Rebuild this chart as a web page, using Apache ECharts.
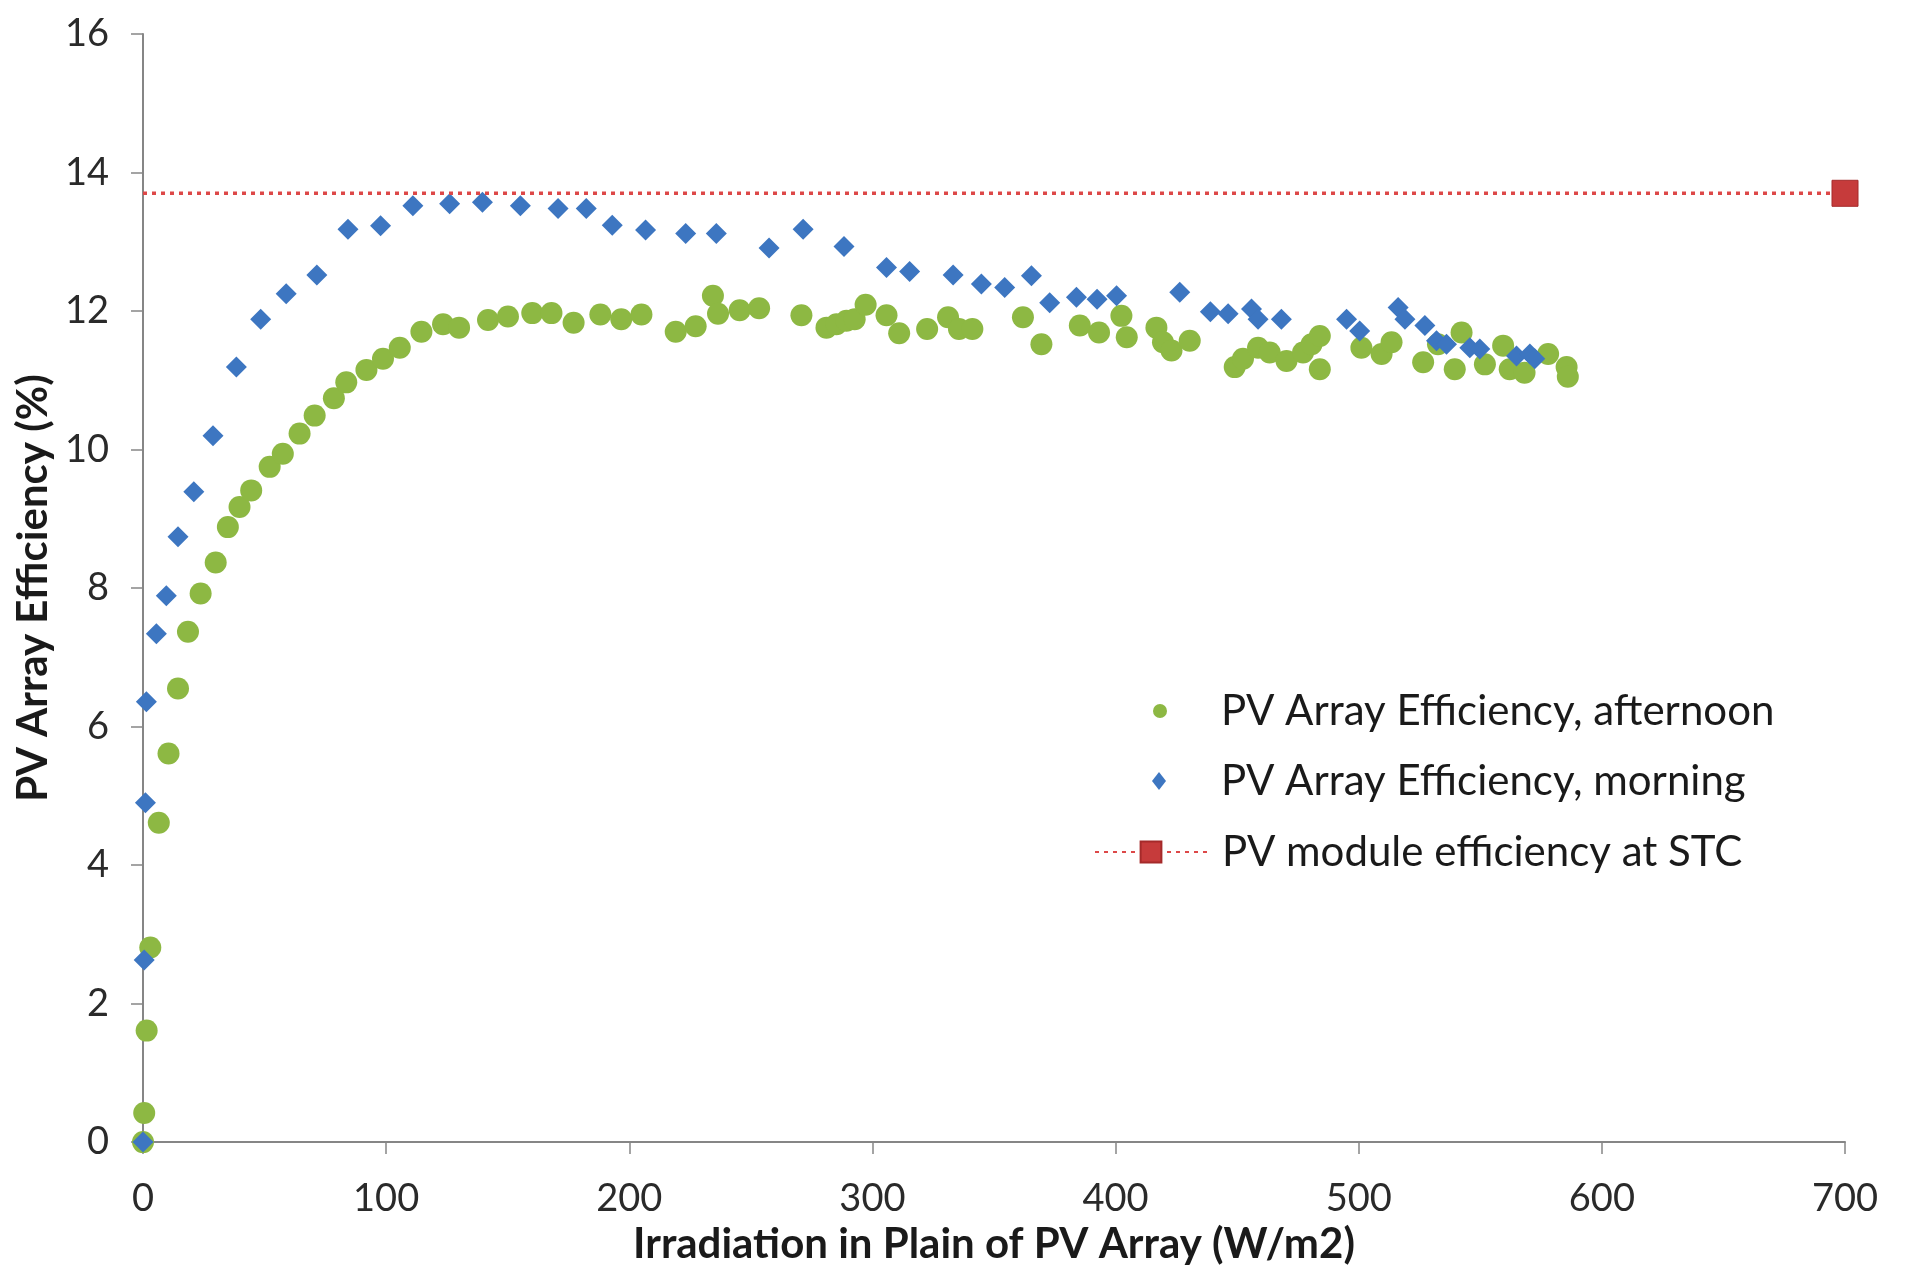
<!DOCTYPE html>
<html>
<head>
    <meta charset="utf-8">
    <title>PV Array Efficiency</title>
    <script src="https://cdn.jsdelivr.net/npm/echarts@6/dist/echarts.min.js"></script>
    <style>
        html, body { margin: 0; padding: 0; background-color: #fff; }
        #charts { width: 1906px; height: 1270px; }
    </style>
</head>
<body>
<div id="charts"></div>
<script type="text/javascript">
// [irradiation W/m2, efficiency %]
var afternoon = [
    [0, 0], [0.5, 0.42], [1.5, 1.61], [3, 2.81], [6.5, 4.61], [10.5, 5.61], [14.4, 6.55], [18.5, 7.37],
    [23.7, 7.92], [29.9, 8.37], [34.9, 8.88], [39.7, 9.17], [44.5, 9.41], [52.1, 9.75], [57.5, 9.94],
    [64.4, 10.23], [70.6, 10.49], [78.5, 10.74], [83.6, 10.97], [91.9, 11.15], [98.7, 11.31],
    [105.6, 11.47], [114.5, 11.70], [123.4, 11.81], [130, 11.76], [141.9, 11.87], [150.1, 11.92],
    [160.1, 11.97], [168, 11.97], [177.1, 11.83], [188.1, 11.95], [196.7, 11.88], [205, 11.95],
    [219.1, 11.70], [227.3, 11.78], [234.4, 12.22], [236.5, 11.96], [245.4, 12.01], [253.4, 12.04],
    [270.8, 11.94], [281.1, 11.76], [285.2, 11.81], [289.3, 11.86], [292.7, 11.88], [297.2, 12.09],
    [305.8, 11.94], [311, 11.68], [322.5, 11.74], [331.1, 11.91], [335.6, 11.74], [341.1, 11.74],
    [361.9, 11.91], [369.5, 11.52], [385.3, 11.79], [393.2, 11.69], [402.4, 11.93], [404.6, 11.62],
    [416.8, 11.76], [419.5, 11.55], [423, 11.43], [430.5, 11.57], [449, 11.19], [452.4, 11.31],
    [458.6, 11.47], [463.4, 11.40], [470.3, 11.28], [477.1, 11.40], [480.6, 11.52], [484, 11.64],
    [484, 11.16], [501.1, 11.47], [509.4, 11.38], [513.5, 11.55], [526.5, 11.26], [532.6, 11.52],
    [539.5, 11.16], [542.3, 11.69], [551.9, 11.23], [559.4, 11.50], [562.1, 11.16], [568.2, 11.11],
    [577.9, 11.38], [585.5, 11.19], [586, 11.05]
];
var morning = [
    [0, 0], [0.5, 2.63], [1, 4.9], [1.4, 6.36], [5.5, 7.34], [9.6, 7.89], [14.4, 8.74], [20.9, 9.39],
    [28.8, 10.2], [38.4, 11.19], [48.4, 11.88], [58.9, 12.25], [71.5, 12.52], [84.3, 13.18],
    [97.7, 13.23], [111, 13.52], [126.1, 13.55], [139.6, 13.57], [155.2, 13.52], [170.7, 13.48],
    [182.3, 13.48], [193, 13.24], [206.7, 13.17], [223.2, 13.12], [235.8, 13.12], [257.5, 12.91],
    [271.5, 13.18], [288.3, 12.93], [305.8, 12.63], [315.3, 12.57], [333.2, 12.52], [344.8, 12.39],
    [354.4, 12.34], [365.4, 12.51], [372.9, 12.12], [383.9, 12.20], [392.4, 12.17], [400.4, 12.22],
    [426.4, 12.27], [439, 11.99], [446.3, 11.96], [455.9, 12.03], [458.6, 11.88], [468.2, 11.88],
    [495, 11.88], [500.4, 11.71], [516.2, 12.05], [519, 11.88], [527.2, 11.79], [532, 11.57],
    [536.1, 11.52], [545.7, 11.47], [549.8, 11.45], [564.9, 11.35], [570.4, 11.38], [572.4, 11.31]
];
var stcX = [0, 700];
var stcY = 13.7;

var names = ['PV Array Efficiency, afternoon', 'PV Array Efficiency, morning', 'PV module efficiency at STC'];

var font = 'Lato, "Open Sans", sans-serif';
var myChart = echarts.init(document.getElementById('charts'));

function legendText(padLeft) {
    return { fontSize: 42, lineHeight: 46, color: '#1a1a1a', fontFamily: font, padding: [0, 0, 0, padLeft] };
}

var option = {
    backgroundColor: '#fff',
    animation: false,
    textStyle: { fontFamily: font },
    grid: { left: 143, right: 61, top: 34, bottom: 127 },
    legend: [
        {
            data: [names[0]],
            left: 1148,
            top: 683,
            itemWidth: 14,
            itemHeight: 14,
            selectedMode: false,
            textStyle: legendText(49)
        },
        {
            data: [names[1]],
            left: 1147,
            top: 753,
            itemWidth: 14,
            itemHeight: 18,
            selectedMode: false,
            textStyle: legendText(50)
        },
        {
            data: [names[2]],
            left: 1089,
            top: 824,
            itemWidth: 112,
            itemHeight: 26,
            selectedMode: false,
            textStyle: legendText(10)
        }
    ],
    xAxis: {
        type: 'value',
        min: 0,
        max: 700,
        interval: 100,
        name: 'Irradiation in Plain of PV Array (W/m2)',
        nameLocation: 'middle',
        nameGap: 78,
        nameTextStyle: { fontSize: 42, fontWeight: 'bold', color: '#1a1a1a', fontFamily: font },
        axisLine: { lineStyle: { color: '#868686', width: 2 } },
        axisTick: { show: true, length: 12, lineStyle: { color: '#868686', width: 1.5 } },
        axisLabel: { fontSize: 38, color: '#2a2a2a', margin: 38, fontFamily: font },
        splitLine: { show: false }
    },
    yAxis: {
        type: 'value',
        min: 0,
        max: 16,
        interval: 2,
        name: 'PV Array Efficiency (%)',
        nameLocation: 'middle',
        nameGap: 86,
        nameTextStyle: { fontSize: 42, fontWeight: 'bold', color: '#1a1a1a', fontFamily: font },
        axisLine: { show: true, lineStyle: { color: '#868686', width: 2 } },
        axisTick: { show: true, length: 12, lineStyle: { color: '#868686', width: 1.5 } },
        axisLabel: { fontSize: 38, color: '#2a2a2a', margin: 34, fontFamily: font },
        splitLine: { show: false }
    },
    series: [
        {
            name: names[0],
            type: 'scatter',
            symbol: 'circle',
            symbolSize: 22,
            itemStyle: { color: '#8DB843', opacity: 1 },
            data: afternoon
        },
        {
            name: names[1],
            type: 'scatter',
            symbol: 'diamond',
            symbolSize: 21,
            itemStyle: { color: '#3D76C1', opacity: 1 },
            data: morning
        },
        {
            name: names[2],
            type: 'line',
            symbol: 'rect',
            symbolSize: 26,
            itemStyle: { color: '#C63B3B', borderColor: '#A52A2A', borderWidth: 1 },
            lineStyle: { color: '#DD4848', width: 3.5, type: [4, 5] },
            data: [
                { value: [stcX[0], stcY], symbol: 'none' },
                [stcX[1], stcY]
            ]
        }
    ]
};

myChart.setOption(option);
</script>
</body>
</html>
